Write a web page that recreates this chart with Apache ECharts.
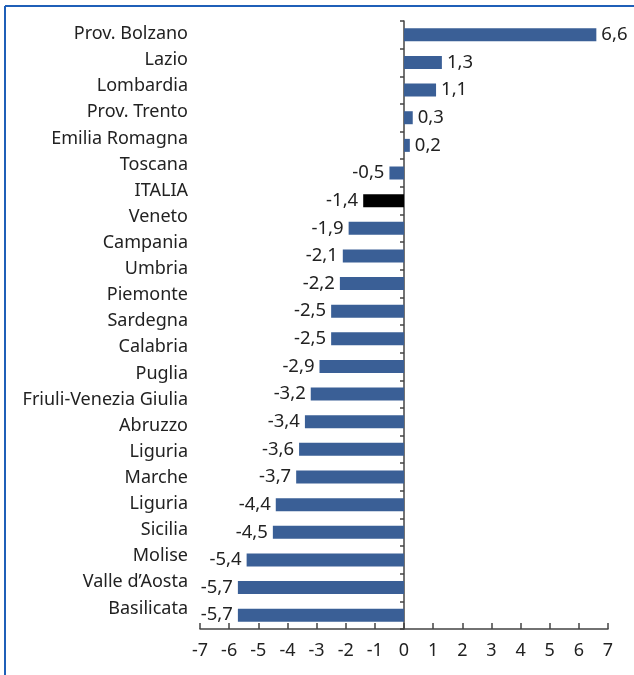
<!DOCTYPE html>
<html>
<head>
<meta charset="utf-8">
<script src="https://cdn.jsdelivr.net/npm/echarts@6/dist/echarts.min.js"></script>
<style>
  html, body { margin: 0; padding: 0; background: #fff; }
  #main { width: 634px; height: 675px; }
</style>
</head>
<body>
<div id="main"></div>
<script>
// etichette regioni (23, come nel grafico originale)
var regions = ['Prov. Bolzano', 'Lazio', 'Lombardia', 'Prov. Trento', 'Emilia Romagna', 'Toscana', 'ITALIA',
	'Veneto', 'Campania', 'Umbria', 'Piemonte', 'Sardegna', 'Calabria', 'Puglia', 'Friuli-Venezia Giulia',
	'Abruzzo', 'Liguria', 'Marche', 'Liguria', 'Sicilia', 'Molise', 'Valle d\u2019Aosta', 'Basilicata'];
// valori delle barre (22)
var values = [6.6, 1.3, 1.1, 0.3, 0.2, -0.5, -1.4, -1.9, -2.1, -2.2, -2.5, -2.5, -2.9, -3.2, -3.4,
	-3.6, -3.7, -4.4, -4.5, -5.4, -5.7, -5.7];
var highlightIndex = 6; // ITALIA
var xTicks = [-7, -6, -5, -4, -3, -2, -1, 0, 1, 2, 3, 4, 5, 6, 7];

var FONT = '"Noto Sans", sans-serif';
var chart = echarts.init(document.getElementById('main'));

var barData = values.map(function(v, i){
	return {
		value: v,
		itemStyle: { color: i === highlightIndex ? '#000000' : '#3a5f96' },
		label: { position: v >= 0 ? 'right' : 'left' }
	};
});

chart.setOption({
	animation: false,
	grid: { left: 200, right: 26, top: 21, bottom: 46, containLabel: false },
	xAxis: {
		type: 'value',
		min: xTicks[0],
		max: xTicks[xTicks.length - 1],
		interval: 1,
		axisLine: { show: true, onZero: false, lineStyle: { color: '#444', width: 1.5 } },
		axisTick: { show: true, inside: true, length: 6, lineStyle: { color: '#444', width: 1.5 } },
		splitLine: { show: false },
		axisLabel: { color: '#222', fontSize: 18, fontFamily: FONT, margin: 13 }
	},
	yAxis: [{
		// asse delle barre, sullo zero
		type: 'category',
		inverse: true,
		data: values.map(function(v, i){ return i; }),
		axisLine: { show: true, onZero: true, lineStyle: { color: '#444', width: 1.5 } },
		axisTick: { show: true, inside: false, length: 4, lineStyle: { color: '#444', width: 1.5 } },
		axisLabel: { show: false }
	}, {
		// asse delle etichette
		type: 'value',
		inverse: true,
		position: 'left',
		min: -0.5,
		max: 22.79,
		interval: 0.5,
		axisLine: { show: false, onZero: false },
		axisTick: { show: false },
		splitLine: { show: false },
		axisLabel: {
			color: '#222', fontSize: 18, fontFamily: FONT, margin: 12,
			showMinLabel: false, showMaxLabel: false,
			formatter: function(v){
				return Number.isInteger(v) && regions[v] ? regions[v] : '';
			}
		}
	}],
	series: [{
		type: 'bar',
		yAxisIndex: 0,
		barWidth: 13,
		data: barData,
		label: {
			show: true,
			distance: 5,
			color: '#222',
			fontSize: 18.5,
			fontFamily: FONT,
			formatter: function(p){ return p.value.toFixed(1).replace('.', ','); }
		}
	}],
	graphic: [
		{ type: 'line', shape: { x1: 5, y1: 6, x2: 634, y2: 6 }, style: { stroke: '#1f5fb8', lineWidth: 2 } },
		{ type: 'line', shape: { x1: 5, y1: 6, x2: 5, y2: 675 }, style: { stroke: '#1f5fb8', lineWidth: 2 } }
	]
});
</script>
</body>
</html>
